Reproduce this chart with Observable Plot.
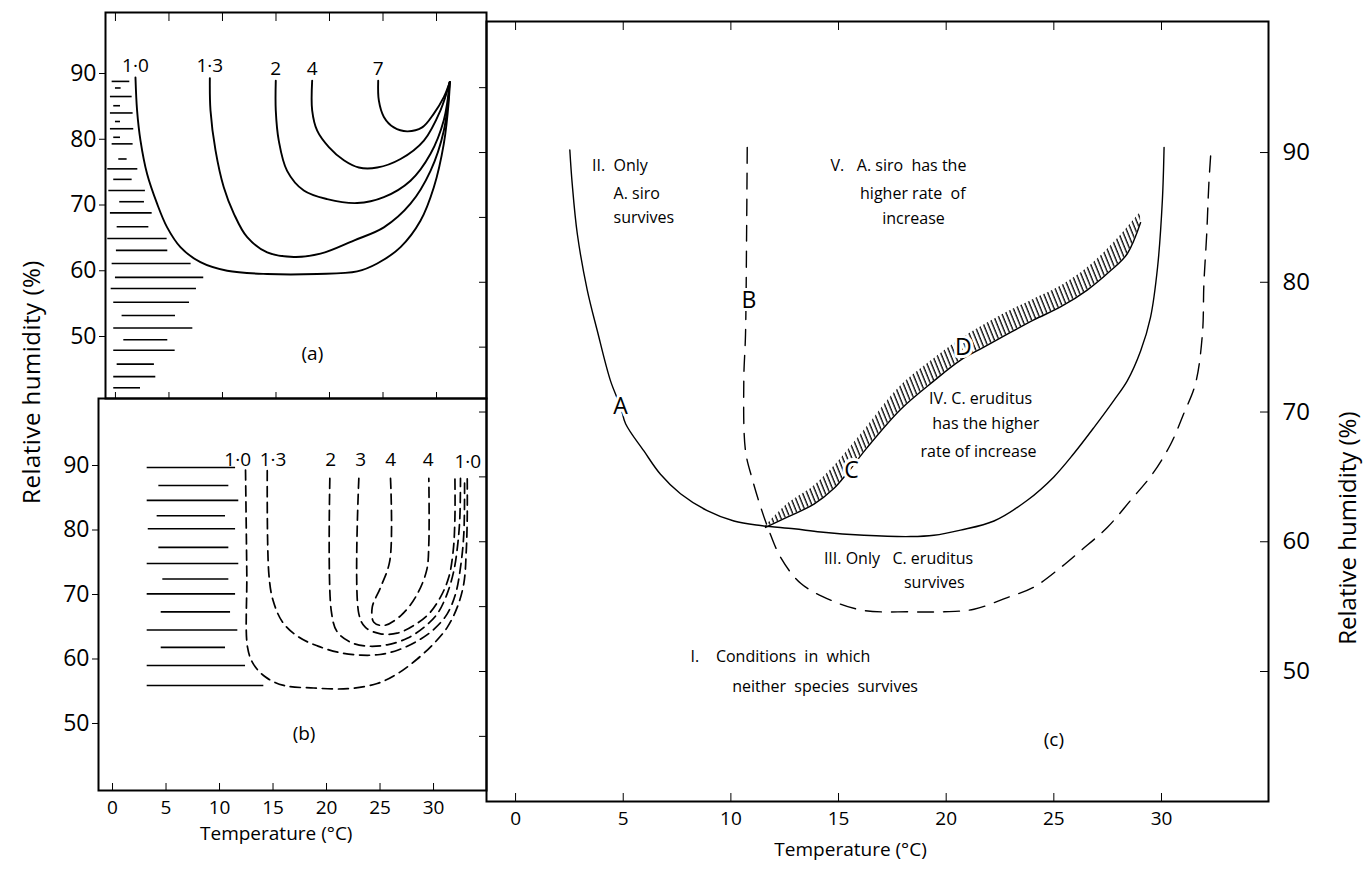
<!DOCTYPE html>
<html>
<head>
<meta charset="utf-8">
<script src="https://cdn.jsdelivr.net/npm/d3@7"></script>
<script src="https://cdn.jsdelivr.net/npm/@observablehq/plot@0.6"></script>
<style>
  body { margin: 0; background: #fff; }
  #wrap { position: relative; width: 1366px; height: 871px; overflow: hidden; background: #fff;
          font-family: 'Open Sans', 'DejaVu Sans', sans-serif; color: #000; }
  .panel { position: absolute; }
  #ylab { position: absolute; left: 30px; top: 382px; transform: translate(-50%, -50%) rotate(-90deg);
          white-space: nowrap; font-size: 24px; letter-spacing: 0.5px; }
</style>
</head>
<body>
<svg width="0" height="0" style="position:absolute">
  <defs>
    <pattern id="hatch" patternUnits="userSpaceOnUse" width="4.2" height="10" patternTransform="rotate(-22)">
      <line x1="1" y1="0" x2="1" y2="10" stroke="#000" stroke-width="1.3"></line>
    </pattern>
  </defs>
</svg>
<div id="wrap">
  <div id="pa" class="panel" style="left:0px;top:0px"></div>
  <div id="pb" class="panel" style="left:0px;top:390px"></div>
  <div id="pc" class="panel" style="left:480px;top:0px"></div>
  <div id="ylab">Relative humidity (%)</div>
</div>
<script>
// ---------- ticks ----------
const tempTicks = [0, 5, 10, 15, 20, 25, 30];
const rhTicksAB = [50, 60, 70, 80, 90];
const rhTicksCLeft = [45, 50, 55, 60, 65, 70, 75, 80, 85, 90, 95];
const rhTicksCRight = [50, 60, 70, 80, 90];

// ---------- panel (a): solid contours [temperature, RH] ----------
const aLabels = ["1·0", "1·3", "2", "4", "7"];
const aCurve10 = [[1.87,89.4],[2.02,84.4],[2.34,79.8],[2.96,74.7],[3.89,70.2],[4.83,66.6],[6.07,63.6],[7.94,61.3],[10.44,60.0],[14.18,59.5],[18.85,59.5],[22.59,59.9],[24.46,61.1],[26.64,63.6],[28.5,67.6],[29.75,72.7],[30.68,79.3],[31.15,85.9],[31.24,88.7]];
const aCurve13 = [[8.82,89.3],[8.88,84.4],[9.35,78.3],[10.12,72.7],[11.06,68.7],[12.31,65.1],[14.18,62.8],[16.67,62.1],[19.16,62.6],[22.27,64.6],[25.08,66.6],[27.57,70.2],[29.44,75.2],[30.68,81.3],[31.24,88.7]];
const aCurve2 = [[14.98,88.9],[14.98,84.4],[15.26,79.8],[16.04,75.2],[17.6,72.2],[19.78,70.9],[22.59,70.3],[25.08,71.2],[27.57,73.7],[29.44,77.8],[30.68,82.9],[31.24,88.7]];
const aCurve4 = [[18.38,88.9],[18.38,84.4],[18.85,81.3],[19.94,78.8],[21.34,76.8],[22.74,75.7],[24.46,75.7],[26.64,77.0],[28.82,79.8],[30.37,84.4],[31.24,88.7]];
const aCurve7 = [[24.55,88.9],[24.61,85.9],[25.08,83.4],[26.01,81.8],[27.26,81.2],[28.66,81.8],[29.75,83.9],[30.68,86.4],[31.24,88.7]];
// horizontal strokes: [RH, t from, t to]
const aBars = [[88.8,-0.31,1.34],[87.8,0,0.53],[86.5,-0.47,1.56],[85.1,-0.16,0.47],[84.0,-0.47,1.65],[82.7,0,0.47],[81.6,-0.47,1.71],[80.3,-0.16,0.47],[79.3,-0.31,1.65],[77.0,0.31,1.09],[75.5,-0.72,2.09],[73.9,-0.16,1.56],[72.2,-0.62,2.8],[70.5,0.4,2.71],[68.8,-0.47,3.43],[66.7,0.16,3.12],[64.9,-0.72,4.83],[63.1,0.09,4.89],[61.1,-0.31,7.07],[59.0,0,8.25],[57.3,-0.4,7.57],[55.2,-0.16,6.92],[53.2,0.62,5.61],[51.3,-0.16,7.23],[49.5,0.78,4.89],[47.9,-0.16,5.58],[45.8,0.16,3.64],[43.9,-0.16,3.77],[42.2,-0.16,2.34]];

// ---------- panel (b): dashed contours ----------
const bLabels = ["1·0", "1·3", "2", "3", "4", "4", "1·0"];
const bLabelT = [11.7, 15.0, 20.4, 23.2, 26.0, 29.5, 33.2];
const bLabelRH = [90.8, 90.8, 90.8, 90.8, 90.8, 90.8, 90.6];
const bCurve10 = [[12.43,89.3],[12.55,73.2],[12.62,61.8],[13.17,59.2],[14.3,57.2],[16.0,55.9],[18.81,55.5],[22.0,55.4],[24.74,56.2],[26.61,57.7],[28.48,60.0],[30.03,62.4],[31.28,64.9],[32.21,68.0],[32.83,71.7],[33.06,76.8],[33.15,82.0],[33.15,88.0]];
const bCurve13 = [[14.46,89.2],[14.61,73.2],[15.0,69.1],[15.9,65.7],[17.4,63.4],[19.2,62.0],[21.2,61.0],[23.2,60.6],[25.0,60.7],[26.7,61.4],[28.5,62.8],[30.03,64.6],[31.28,67.0],[32.06,70.1],[32.52,74.2],[32.83,79.4],[32.9,88.0]];
const bCurve2 = [[20.31,88.0],[20.44,67.5],[21.0,64.2],[22.24,62.6],[23.8,62.0],[25.67,62.2],[27.54,63.2],[29.1,64.9],[30.35,67.0],[31.27,70.1],[31.9,73.7],[32.27,77.9],[32.46,82.0],[32.52,88.0]];
const bCurve3 = [[23.02,88.0],[23.02,67.0],[23.64,64.9],[25.05,63.9],[26.6,64.0],[28.16,65.2],[29.56,67.0],[30.65,69.6],[31.43,72.7],[31.84,76.8],[32.0,82.0],[32.0,88.0]];
const bCurve4 = [[25.98,88.0],[25.92,75.3],[25.05,71.1],[24.27,68.0],[24.42,65.7],[25.36,65.2],[26.92,66.7],[28.32,69.6],[29.35,73.7],[29.56,77.9],[29.56,88.0]];
const bBars = [[89.7,3.24,11.5],[86.9,4.33,10.87],[84.6,3.24,11.8],[82.2,4.17,10.56],[80.2,3.34,11.5],[77.3,4.33,10.87],[74.8,3.24,11.8],[72.4,4.7,10.87],[70.1,3.24,11.5],[67.3,4.55,11.03],[64.5,3.24,11.71],[61.8,4.55,10.56],[59.0,3.24,12.43],[55.9,3.24,14.14]];

// ---------- panel (c) ----------
const cCurveA = [[2.52,90.2],[2.63,87.6],[2.87,83.7],[3.33,79.4],[3.79,76.3],[4.41,72.4],[4.88,70.4],[5.11,69.1],[5.96,67.0],[6.73,65.2],[7.66,63.7],[8.9,62.4],[10.14,61.6],[11.38,61.25],[12.93,61.0],[14.17,60.75],[16.18,60.5],[18.35,60.4],[19.43,60.5],[20.67,60.9],[22.22,61.6],[23.77,63.2],[25.0,65.0],[25.93,66.8],[26.86,68.8],[27.79,70.9],[28.41,72.4],[29.03,74.7],[29.49,77.3],[29.82,81.2],[30.04,86.3],[30.12,90.4]];
const cCurveB = [[10.76,90.4],[10.73,83.7],[10.68,76.0],[10.6,72.4],[10.68,67.0],[11.0,64.8],[11.38,62.7],[11.76,60.9],[12.31,58.8],[13.24,56.8],[14.63,55.5],[16.18,54.7],[18.35,54.6],[19.9,54.6],[21.29,54.8],[22.84,55.7],[24.07,56.5],[25.31,58.0],[26.24,59.3],[27.48,61.1],[28.57,63.2],[29.57,65.2],[30.42,67.5],[31.04,69.9],[31.58,72.2],[31.9,76.0],[31.97,79.9],[32.1,83.7],[32.2,87.6],[32.31,90.4]];
// hatched band C–D: [t, lower RH, upper RH]
const cBand = [[11.61,61.1,61.2],[12.62,61.9,62.9],[13.86,62.9,64.3],[14.78,64.1,65.8],[15.41,65.3,67.0],[16.3,67.2,68.8],[17.88,70.2,72.0],[19.43,72.4,74.1],[20.67,74.0,75.6],[21.75,75.0,76.7],[22.84,76.0,77.7],[24.07,77.1,78.7],[25.31,78.1,79.7],[26.55,79.4,81.1],[27.64,80.9,82.8],[28.41,82.2,84.2],[29.03,84.6,85.4]];
const cLetters = ["A", "B", "C", "D"];
const cLetterT = [4.88, 10.84, 15.6, 20.8];
const cLetterRH = [70.4, 78.6, 65.5, 75.0];
const cNoteText = ["II.\u00a0\u00a0Only", "A. siro", "survives",
  "V.\u00a0\u00a0\u00a0A. siro\u00a0\u00a0has the", "higher rate\u00a0 of", "increase",
  "IV. C. eruditus", "has the higher", "rate of increase",
  "III. Only\u00a0\u00a0\u00a0C. eruditus", "survives",
  "I.\u00a0\u00a0\u00a0\u00a0Conditions\u00a0 in\u00a0 which", "neither\u00a0\u00a0species\u00a0\u00a0survives"];
const cNoteT = [3.55, 4.55, 4.55, 14.63, 16.0, 17.03, 19.2, 19.35, 18.81, 14.32, 18.04, 8.13, 10.06];
const cNoteRH = [89.0, 86.8, 85.0, 89.0, 86.8, 84.9, 71.0, 69.1, 66.9, 58.7, 56.8, 51.1, 48.8];

const panelTags = ["(a)", "(b)", "(c)"];
const tagT = [18.4, 17.9, 25.0];
const tagRH = [47.4, 48.4, 44.7];
const xTitle = "Temperature (°C)";
const yTitle = "Relative humidity (%)";

// ---------- helpers ----------
const FONT = "'Open Sans', 'DejaVu Sans', sans-serif";
const series = (curves, names) => curves.flatMap((c, i) => c.map(([t, rh]) => ({t, rh, name: names[i] + "#" + i})));
const starts = (curves, names) => curves.map((c, i) => ({t: c[0][0], rh: c[0][1], label: names[i]}));
const baseStyle = {background: "transparent", overflow: "visible", fontFamily: FONT, color: "#000"};
const noText = () => "";

// ---------- (a) ----------
const aCurves = [aCurve10, aCurve13, aCurve2, aCurve4, aCurve7];
const plotA = Plot.plot({
  width: 490, height: 402,
  marginLeft: 105, marginRight: 4, marginTop: 12, marginBottom: 4,
  x: {domain: [-0.93, 34.67]},
  y: {domain: [40.57, 99.28]},
  style: baseStyle,
  marks: [
    Plot.ruleY(aBars, {y: d => d[0], x1: d => d[1], x2: d => d[2], strokeWidth: 1.6}),
    Plot.line(series(aCurves, aLabels), {x: "t", y: "rh", z: "name", curve: "catmull-rom", strokeWidth: 1.9}),
    Plot.text(starts(aCurves, aLabels), {x: "t", y: "rh", text: "label", dy: -12, fontSize: 19}),
    Plot.text([0], {x: () => tagT[0], y: () => tagRH[0], text: () => panelTags[0], fontSize: 19}),
    Plot.axisY(rhTicksAB, {anchor: "left", tickSize: 6, tickPadding: 3, fontSize: 23, label: null}),
    Plot.axisX(tempTicks, {anchor: "top", tickSize: -8, tickFormat: noText, label: null}),
    Plot.axisX(tempTicks, {anchor: "bottom", tickSize: -6, tickFormat: noText, label: null}),
    Plot.frame({strokeWidth: 2})
  ]
});
document.getElementById("pa").append(plotA);

// ---------- (b) ----------
const bCurves = [bCurve10, bCurve13, bCurve2, bCurve3, bCurve4];
const bNames = ["1·0", "1·3", "2", "3", "4"];
const plotB = Plot.plot({
  width: 490, height: 481,
  marginLeft: 98, marginRight: 4, marginTop: 8, marginBottom: 81,
  x: {domain: [-1.31, 34.95]},
  y: {domain: [39.61, 100.39]},
  style: baseStyle,
  marks: [
    Plot.ruleY(bBars, {y: d => d[0], x1: d => d[1], x2: d => d[2], strokeWidth: 1.6}),
    Plot.line(series(bCurves, bNames), {x: "t", y: "rh", z: "name", curve: "catmull-rom", strokeWidth: 1.7, strokeDasharray: "10,6"}),
    Plot.text(bLabels, {x: (d, i) => bLabelT[i], y: (d, i) => bLabelRH[i], text: d => d, fontSize: 19}),
    Plot.text([0], {x: () => tagT[1], y: () => tagRH[1], text: () => panelTags[1], fontSize: 19}),
    Plot.axisY(rhTicksAB, {anchor: "left", tickSize: 6, tickPadding: 3, fontSize: 23, label: null}),
    Plot.axisX(tempTicks, {anchor: "bottom", tickSize: -7, tickFormat: noText, label: null}),
    Plot.axisX(tempTicks, {anchor: "bottom", tickSize: 0, tickPadding: 10, fontSize: 19, label: null}),
    Plot.text([xTitle], {x: () => 15.3, frameAnchor: "bottom", dy: 49, fontSize: 19}),
    Plot.frame({strokeWidth: 2})
  ]
});
document.getElementById("pb").append(plotB);

// ---------- (c) ----------
const plotC = Plot.plot({
  width: 886, height: 871,
  marginLeft: 6, marginRight: 98, marginTop: 21, marginBottom: 70,
  x: {domain: [-1.35, 34.97]},
  y: {domain: [39.98, 100.1]},
  style: baseStyle,
  marks: [
    Plot.areaY(cBand, {x: d => d[0], y1: d => d[1], y2: d => d[2], fill: "url(#hatch)", curve: "catmull-rom"}),
    Plot.line(cBand, {x: d => d[0], y: d => d[1], curve: "catmull-rom", strokeWidth: 1.4}),
    Plot.line(cCurveA, {x: d => d[0], y: d => d[1], curve: "catmull-rom", strokeWidth: 1.4}),
    Plot.line(cCurveB, {x: d => d[0], y: d => d[1], curve: "catmull-rom", strokeWidth: 1.4, strokeDasharray: "16,10"}),
    Plot.text(cLetters, {x: (d, i) => cLetterT[i], y: (d, i) => cLetterRH[i], text: d => d, fontSize: 23,
      stroke: "white", strokeWidth: 6, fill: "black"}),
    Plot.text(cNoteText, {x: (d, i) => cNoteT[i], y: (d, i) => cNoteRH[i], text: d => d, textAnchor: "start", fontSize: 16}),
    Plot.text([0], {x: () => tagT[2], y: () => tagRH[2], text: () => panelTags[2], fontSize: 19}),
    Plot.axisX(tempTicks, {anchor: "bottom", tickSize: -8, tickFormat: noText, label: null}),
    Plot.axisX(tempTicks, {anchor: "bottom", tickSize: 0, tickPadding: 10, fontSize: 19, label: null}),
    Plot.axisX(tempTicks, {anchor: "top", tickSize: -8, tickFormat: noText, label: null}),
    Plot.axisY(rhTicksCLeft, {anchor: "left", tickSize: 7, tickFormat: noText, label: null}),
    Plot.axisY(rhTicksCRight, {anchor: "right", tickSize: -9, tickFormat: noText, label: null}),
    Plot.axisY(rhTicksCRight, {anchor: "right", tickSize: 0, tickPadding: 14, fontSize: 24, label: null}),
    Plot.text([xTitle], {x: () => 15.56, frameAnchor: "bottom", dy: 54, fontSize: 19}),
    Plot.text([yTitle], {frameAnchor: "right", dx: 80, rotate: -90, fontSize: 24}),
    Plot.frame({strokeWidth: 2})
  ]
});
document.getElementById("pc").append(plotC);
</script>
</body>
</html>
